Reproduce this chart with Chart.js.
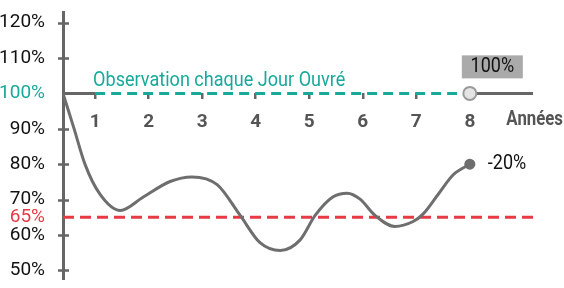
<!DOCTYPE html>
<html><head><meta charset="utf-8">
<script src="https://cdn.jsdelivr.net/npm/chart.js@4/dist/chart.umd.min.js"></script>
<style>html,body{margin:0;padding:0;background:#fff}#wrap{width:564px;height:288px}</style>
</head><body><div id="wrap"><canvas id="c" width="564" height="288"></canvas></div>
<script>
// ---- data ----
const years  = [0.40,0.605,0.81,1.09,1.47,1.90,2.40,2.81,3.28,3.71,4.08,4.46,4.83,5.11,5.44,5.71,5.95,6.23,6.60,6.94,7.12,7.41,7.69,8.00];
const values = [100,90.1,80.0,71.5,66.9,70.7,75.1,76.4,74.2,65.5,57.8,55.6,58.6,65.5,70.7,71.8,70.1,65.5,62.4,63.8,65.8,71.5,77.0,80];
const yTickValues = [50,60,65,70,80,90,100,110,120];
const yCrossTicks = [50,60,70,80,90,110,120];
const xTickValues = [1,2,3,4,5,6,7,8];
const barrierLevel = 65;
const observationLevel = 100;
const firstObservation = 1;
const lastObservation = 8;
const finalValue = 80;
const xAxisTitle = 'Années';
const observationText = 'Observation chaque Jour Ouvré';
const finalText = '-20%';
const observationValueText = '100%';

const FONT = "Roboto, 'Liberation Sans', sans-serif";
const GREY = '#6e6e6e', AXIS = '#666666', TEAL = '#17a99a', RED = '#e63a45';
const X_MIN = 0.4, X_MAX = 9.18;

function condensedText(ctx, text, x, y, sx, align) {
  ctx.save();
  ctx.translate(x, y);
  ctx.scale(sx, 1);
  ctx.textAlign = align;
  ctx.fillText(text, 0, 0);
  ctx.restore();
}

const extras = {
  id: 'extras',
  afterDraw(chart) {
    const ctx = chart.ctx, xs = chart.scales.x, ys = chart.scales.y;
    const ax = chart.chartArea.left;
    ctx.save();
    // y tick crosses
    ctx.strokeStyle = AXIS; ctx.lineWidth = 2.5;
    yCrossTicks.forEach(v => {
      const y = Math.round(ys.getPixelForValue(v)) + 0.5;
      ctx.beginPath(); ctx.moveTo(ax - 5, y); ctx.lineTo(ax + 6, y); ctx.stroke();
    });
    const y100 = ys.getPixelForValue(observationLevel);
    // x axis title
    ctx.fillStyle = '#555'; ctx.font = 'bold 20px ' + FONT;
    ctx.textBaseline = 'middle';
    condensedText(ctx, xAxisTitle, 563, y100 + 27, 0.84, 'right');
    // observation text
    ctx.fillStyle = TEAL; ctx.font = '21px ' + FONT;
    ctx.textBaseline = 'alphabetic';
    condensedText(ctx, observationText, xs.getPixelForValue(firstObservation) - 2, y100 - 7, 0.86, 'left');
    // 100% box
    const px = xs.getPixelForValue(lastObservation);
    ctx.fillStyle = '#aaaaaa';
    ctx.fillRect(px - 8, y100 - 38, 61, 23);
    ctx.fillStyle = '#111'; ctx.font = '20px ' + FONT;
    ctx.textBaseline = 'middle';
    condensedText(ctx, observationValueText, px + 22.5, y100 - 26, 0.9, 'center');
    // final label
    condensedText(ctx, finalText, px + 18, ys.getPixelForValue(finalValue), 0.9, 'left');
    ctx.restore();
  }
};

new Chart(document.getElementById('c'), {
  type: 'line',
  data: {
    datasets: [
      { data: [{x: lastObservation, y: finalValue}], showLine: false, pointRadius: 5.5,
        pointBackgroundColor: GREY, pointBorderColor: GREY, pointBorderWidth: 0, order: 0 },
      { data: [{x: lastObservation, y: observationLevel}], showLine: false, pointRadius: 6.5,
        pointBackgroundColor: '#e4e4e4', pointBorderColor: '#9a9a9a', pointBorderWidth: 2, order: 0 },
      { data: years.map((x, i) => ({x, y: values[i]})), borderColor: GREY, borderWidth: 3,
        pointRadius: 0, cubicInterpolationMode: 'monotone', order: 1 },
      { data: [{x: firstObservation, y: observationLevel}, {x: lastObservation, y: observationLevel}],
        borderColor: TEAL, borderWidth: 3, borderDash: [10, 6], pointRadius: 0, order: 2 },
      { data: [{x: X_MIN, y: barrierLevel}, {x: X_MAX, y: barrierLevel}],
        borderColor: RED, borderWidth: 3, borderDash: [11, 6], pointRadius: 0, order: 3 },
      { data: [{x: X_MIN, y: observationLevel}, {x: firstObservation, y: observationLevel}, {x: 4.5, y: null},
               {x: lastObservation, y: observationLevel}, {x: X_MAX, y: observationLevel}],
        borderColor: AXIS, borderWidth: 3, pointRadius: 0, spanGaps: false, order: 4 }
    ]
  },
  options: {
    responsive: false, animation: false, devicePixelRatio: 1,
    layout: { padding: { left: 0, right: 564 - 533, top: 12, bottom: 0 } },
    plugins: { legend: { display: false }, tooltip: { enabled: false } },
    scales: {
      x: {
        type: 'linear', min: X_MIN, max: X_MAX, position: { y: observationLevel },
        grid: { display: true, drawOnChartArea: false, drawTicks: true, tickLength: 6, lineWidth: 2.5, color: AXIS },
        border: { display: false },
        ticks: { font: { family: FONT, size: 19, weight: 'bold' }, color: '#555', padding: 11, maxRotation: 0, autoSkip: false },
        afterBuildTicks: s => { s.ticks = xTickValues.map(v => ({value: v})); },
        afterFit: s => { s.paddingLeft = 0; s.paddingRight = 0; }
      },
      y: {
        type: 'linear', min: 47.4, max: 123, position: 'left',
        grid: { display: false },
        border: { display: true, color: AXIS, width: 3 },
        ticks: { font: { family: FONT, size: 19 }, padding: 10, autoSkip: false,
          color: c => c.tick && c.tick.value === barrierLevel ? RED : (c.tick && c.tick.value === observationLevel ? TEAL : '#111'),
          callback: v => v + '%' },
        afterBuildTicks: s => { s.ticks = yTickValues.map(v => ({value: v})); },
        afterFit: s => { s.width = 63; s.paddingTop = 0; s.paddingBottom = 0; }
      }
    }
  },
  plugins: [extras]
});
</script></body></html>
